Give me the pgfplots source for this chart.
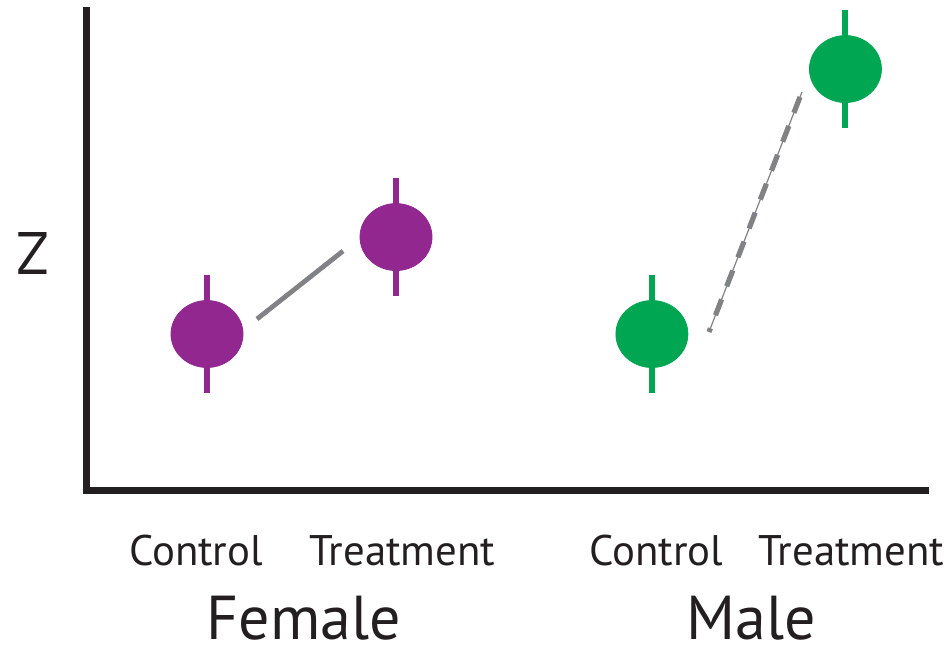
\documentclass[border=0pt]{standalone}
\usepackage{pgfplots}
\pgfplotsset{compat=1.18}
\usepackage{fontspec}
\setmainfont{PT Sans}
\definecolor{fpurple}{HTML}{92278F}
\definecolor{mgreen}{HTML}{00A651}
\definecolor{lgray}{HTML}{808285}
\definecolor{axisblack}{HTML}{231F20}
\begin{document}
\begin{tikzpicture}
\begin{axis}[
  width=419pt, height=240pt, scale only axis,
  at={(0,0)}, anchor=south west,
  xmin=0.365, xmax=4.799, ymin=0, ymax=10,
  axis x line=bottom, axis y line=left,
  axis line style={-, line width=3.5pt, color=axisblack, line cap=rect},
  xtick=\empty, ytick=\empty,
  clip=false,
]
% connector lines
\addplot[color=lgray, line width=2.4pt] coordinates {(1.2646,3.5625) (1.7196,4.979)};
\addplot[color=lgray, line width=0.6pt] coordinates {(3.656,3.292) (4.148,8.292)};
\addplot[color=lgray, line width=2.6pt, dash pattern=on 8.5pt off 7pt, dash phase=6.5pt] coordinates {(3.656,3.292) (4.148,8.292)};
% Female
\addplot[only marks, mark=*, mark size=18pt, color=fpurple, mark options={yscale=0.93, draw=none, fill=fpurple},
  error bars/.cd, y dir=both, y explicit, error mark=none,
  error bar style={line width=3pt, color=fpurple}]
  coordinates {(1,3.25) +- (0,1.229) (2,5.27) +- (0,1.229)};
% Male
\addplot[only marks, mark=*, mark size=18pt, color=mgreen, mark options={yscale=0.93, draw=none, fill=mgreen},
  error bars/.cd, y dir=both, y explicit, error mark=none,
  error bar style={line width=3pt, color=mgreen}]
  coordinates {(3.354,3.25) +- (0,1.229) (4.378,8.77) +- (0,1.229)};
% labels
\tikzset{lbl/.style={anchor=base, inner sep=0pt, text=axisblack}}
\node[lbl, font=\fontsize{21.4pt}{24pt}\selectfont] at (axis cs:0.942,-1.5625) {Control};
\node[lbl, font=\fontsize{21.4pt}{24pt}\selectfont] at (axis cs:2.034,-1.5625) {Treatment};
\node[lbl, font=\fontsize{21.4pt}{24pt}\selectfont] at (axis cs:3.376,-1.5625) {Control};
\node[lbl, font=\fontsize{21.4pt}{24pt}\selectfont] at (axis cs:4.410,-1.5625) {Treatment};
\node[lbl, font=\fontsize{31pt}{36pt}\selectfont] at (axis cs:1.513,-3.11) {Female};
\node[lbl, font=\fontsize{31pt}{36pt}\selectfont] at (axis cs:3.881,-3.11) {Male};
\node[lbl, font=\fontsize{30pt}{34pt}\selectfont] at (axis cs:0.0767,4.5) {Z};
\end{axis}
\pgfresetboundingbox
\path[use as bounding box] (-43.5pt,-77.5pt) rectangle (430pt,245pt);
\end{tikzpicture}
\end{document}
